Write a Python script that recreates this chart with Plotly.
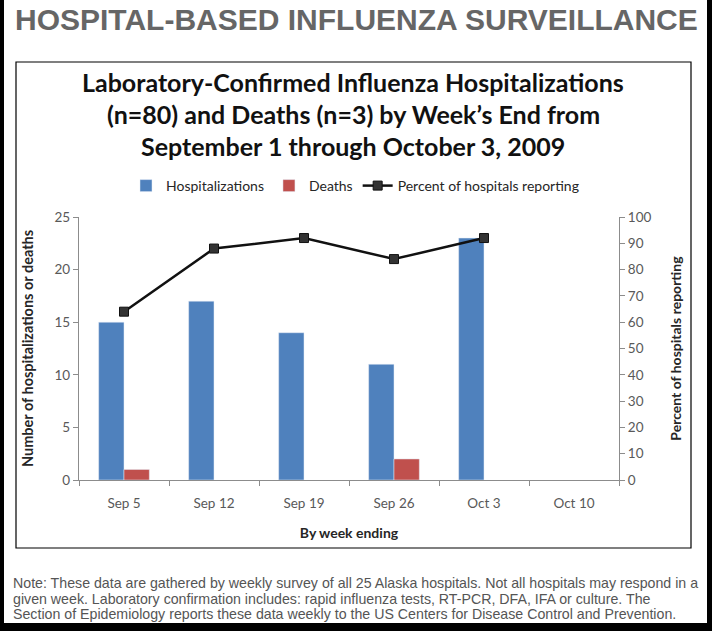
import plotly.graph_objects as go

weeks = ["Sep 5", "Sep 12", "Sep 19", "Sep 26", "Oct 3", "Oct 10"]
hospitalizations = [15, 17, 14, 11, 23, None]
deaths = [1, None, None, 2, None, None]
pct_reporting = [64, 88, 92, 84, 92, None]

title_lines = [
    "Laboratory-Confirmed Influenza Hospitalizations",
    "(n=80) and Deaths (n=3) by Week\u2019s End from",
    "September 1 through October 3, 2009",
]
note_lines = [
    "Note: These data are gathered by weekly survey of all 25 Alaska hospitals. Not all hospitals may respond in a",
    "given week. Laboratory confirmation includes: rapid influenza tests, RT-PCR, DFA, IFA or culture. The",
    "Section of Epidemiology reports these data weekly to the US Centers for Disease Control and Prevention.",
]

W, H = 712, 631
L, R, T, B = 79, 619, 217, 480


def px_x(p):
    return (p - L) / (R - L)


def px_y(p):
    return (B - p) / (B - T)


cal = "Lato"
tick_col = "#595959"
axis_col = "#8c8c8c"

fig = go.Figure()
fig.add_trace(go.Bar(x=weeks, y=hospitalizations, name="Hospitalizations",
                     marker_color="#4F81BD"))
fig.add_trace(go.Bar(x=weeks, y=deaths, name="Deaths", marker_color="#C0504D"))
fig.add_trace(go.Scatter(x=weeks, y=pct_reporting, name="Percent of hospitals reporting",
                         yaxis="y2", mode="lines+markers",
                         line=dict(color="#111111", width=2.5),
                         marker=dict(symbol="square", size=9, color="#333333",
                                     line=dict(color="#111111", width=1))))

fig.update_layout(
    width=W, height=H,
    margin=dict(l=L, r=W - R, t=T, b=H - B),
    paper_bgcolor="white", plot_bgcolor="white",
    barmode="group", bargap=0.437, bargroupgap=0,
    font=dict(family=cal, size=13, color=tick_col),
    showlegend=True,
    legend=dict(orientation="h", x=px_x(355), xanchor="center", y=px_y(186), yanchor="middle",
                font=dict(family=cal, size=14, color="#262626"), itemwidth=30,
                traceorder="normal"),
    xaxis=dict(type="category", range=[-0.5, 5.5], tickson="boundaries",
               ticks="outside", ticklen=5, tickcolor=axis_col, showline=True,
               linecolor=axis_col, linewidth=1.2, showgrid=False, ticklabelstandoff=11,
               tickfont=dict(family=cal, size=13.5, color=tick_col),
               title=dict(text="<b>By week ending</b>", standoff=17,
                          font=dict(family=cal, size=14, color="#262626"))),
    yaxis=dict(range=[0, 25], dtick=5, ticks="outside", ticklen=5, tickcolor=axis_col,
               showline=True, linecolor=axis_col, linewidth=1.2, showgrid=False,
               zeroline=False, tickfont=dict(family=cal, size=13.5, color=tick_col),
               title=dict(text="<b>Number of hospitalizations or deaths</b>", standoff=17,
                          font=dict(family=cal, size=14.5, color="#262626"))),
    yaxis2=dict(range=[0, 100], dtick=10, overlaying="y", side="right", ticks="outside",
                ticklen=5, tickcolor=axis_col, showline=True, linecolor=axis_col,
                linewidth=1.2, showgrid=False, zeroline=False,
                tickfont=dict(family=cal, size=13.5, color=tick_col),
                title=dict(text="<b>Percent of hospitals reporting</b>", standoff=20,
                           font=dict(family=cal, size=14, color="#262626"))),
)

shapes = [
    dict(type="rect", xref="paper", yref="paper", x0=px_x(16), x1=px_x(691),
         y0=px_y(548), y1=px_y(62), line=dict(color="black", width=1.2)),
    dict(type="line", xref="paper", yref="paper", x0=px_x(2), x1=px_x(2),
         y0=px_y(0), y1=px_y(631), line=dict(color="black", width=4)),
    dict(type="line", xref="paper", yref="paper", x0=px_x(709.5), x1=px_x(709.5),
         y0=px_y(0), y1=px_y(631), line=dict(color="black", width=5)),
    dict(type="line", xref="paper", yref="paper", x0=px_x(0), x1=px_x(712),
         y0=px_y(627), y1=px_y(627), line=dict(color="black", width=8)),
]
fig.update_layout(shapes=shapes)

ann = [dict(text="<b>HOSPITAL-BASED INFLUENZA SURVEILLANCE</b>", xref="paper", yref="paper",
            x=px_x(356), y=px_y(20), xanchor="center", yanchor="middle", showarrow=False,
            font=dict(family="Liberation Sans", size=30, color="#666666"))]
for i, line in enumerate(title_lines):
    ann.append(dict(text="<b>" + line + "</b>", xref="paper", yref="paper",
                    x=px_x(353), y=px_y(82 + 32 * i), xanchor="center", yanchor="middle",
                    showarrow=False, font=dict(family=cal, size=25, color="#111111")))
for i, line in enumerate(note_lines):
    ann.append(dict(text=line, xref="paper", yref="paper",
                    x=px_x(11), y=px_y(583 + 15.5 * i), xanchor="left", yanchor="middle",
                    showarrow=False, font=dict(family="Liberation Sans", size=14.2, color="#555555")))
fig.update_layout(annotations=ann)

fig.write_html("out.html", config={"displayModeBar": False},
               post_script="document.body.style.margin='0';")
